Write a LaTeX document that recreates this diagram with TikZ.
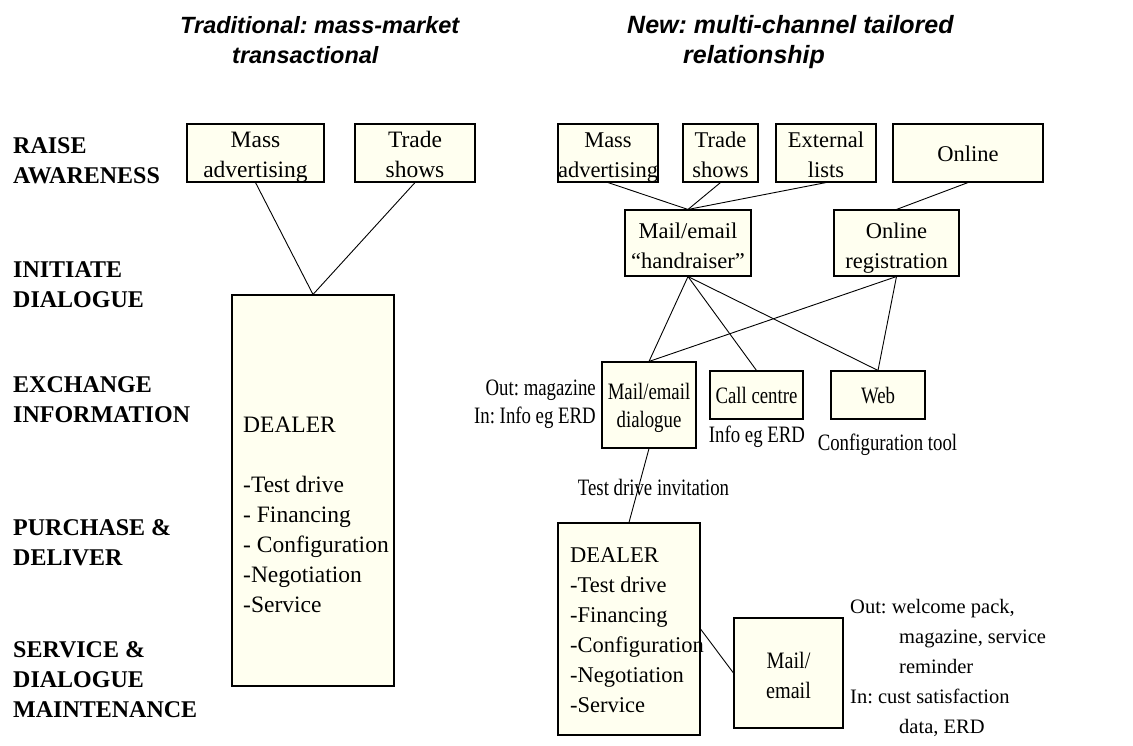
\documentclass[tikz,border=0pt]{standalone}
\usepackage{fontspec}
\setmainfont{Liberation Serif}
\newfontfamily\headfont{Liberation Sans}
\newfontfamily\narrowserif[FakeStretch=0.8]{Liberation Serif}
\newfontfamily\mailserif[FakeStretch=0.86]{Liberation Serif}
\usetikzlibrary{positioning}
\frenchspacing

\definecolor{boxfill}{RGB}{255,255,240}
\newcommand{\oldtxt}{\fontsize{23.5}{30}\selectfont}
\newcommand{\newtxt}{\fontsize{22.5}{30}\selectfont}
\newcommand{\infotxt}{\fontsize{23.5}{28}\selectfont\narrowserif}
\newcommand{\mailtxt}{\fontsize{23.5}{30}\selectfont\mailserif}
\newcommand{\notetxt}{\fontsize{20.5}{30}\selectfont}
\newcommand{\stagetxt}{\fontsize{24}{30}\selectfont\bfseries}
\newcommand{\headtxt}{\headfont\bfseries\itshape}

\tikzset{
  box/.style={draw, line width=1.1pt, fill=boxfill, inner sep=0pt, align=center,
    text height=48pt, text depth=0pt},
  oneline/.style={text height=16pt},
  txt/.style={inner sep=0pt, align=left},
  stage/.style={txt, anchor=base west, font=\stagetxt},
  head/.style={txt, anchor=base west},
  link/.style={line width=0.9pt},
}

\begin{document}
\begin{tikzpicture}[x=1pt, y=-1pt]
        \useasboundingbox (0,0) rectangle (1133,745);
        % Column headings (anchored on their last line)
        \node[head, font=\fontsize{23.5}{30}\selectfont\headtxt] (headOld) at (180,63) {Traditional: mass-market\\\hspace*{52pt}transactional};
        \node[head, font=\fontsize{25}{30}\selectfont\headtxt] (headNew) at (627,63) {New: multi-channel tailored\\\hspace*{56pt}relationship};
        % Stages down the left
        \node[stage] (raise) at (13,183) {RAISE\\AWARENESS};
        \node[stage] (initiate) at (13,307) {INITIATE\\DIALOGUE};
        \node[stage] (exchange) at (13,422) {EXCHANGE\\INFORMATION};
        \node[stage] (purchase) at (13,565) {PURCHASE \&\\DELIVER};
        \node[stage] (service) at (13,717) {SERVICE \&\\DIALOGUE\\MAINTENANCE};
        % Traditional column
        \node[box, font=\oldtxt, minimum width=137pt, minimum height=58pt] (advOld) at (255.5,153) {Mass\\advertising};
        \node[box, font=\oldtxt, minimum width=120pt, minimum height=58pt] (tradeOld) at (415,153) {Trade\\shows};
        \node[box, minimum width=162pt, minimum height=391pt] (dealerOld) at (313,490.5) {};
        \node[txt, font=\oldtxt, anchor=base west] (dealerOldList) at (243,612)
          {DEALER\\[30pt]-Test drive\\- Financing\\- Configuration\\-Negotiation\\-Service};
        \draw[link] (advOld.south) -- (dealerOld.north);
        \draw[link] (tradeOld.south) -- (dealerOld.north);
        % New column: awareness
        \node[box, font=\newtxt, minimum width=100pt, minimum height=58pt] (advNew) at (608,153) {Mass\\advertising};
        \node[box, font=\newtxt, minimum width=75pt, minimum height=58pt] (tradeNew) at (720.5,153) {Trade\\shows};
        \node[box, font=\newtxt, minimum width=100pt, minimum height=58pt] (lists) at (826,153) {External\\lists};
        \node[box, oneline, font=\newtxt, minimum width=150pt, minimum height=58pt] (online) at (968,153) {Online};
        % New column: dialogue
        \node[box, text height=50pt, font=\newtxt, minimum width=126pt, minimum height=66pt] (hand) at (688,243) {Mail/email\\“handraiser”};
        \node[box, text height=50pt, font=\newtxt, minimum width=125pt, minimum height=66pt] (reg) at (896.5,243) {Online\\registration};
        \draw[link] (advNew.south) -- (hand.north);
        \draw[link] (tradeNew.south) -- (hand.north);
        \draw[link] (lists.south) -- (hand.north);
        \draw[link] (online.south) -- (reg.north);
        % New column: information
        \node[box, text height=44pt, font=\infotxt, minimum width=94pt, minimum height=86pt] (dialogue) at (649,405) {Mail/email\\dialogue};
        \node[box, oneline, font=\infotxt, minimum width=93pt, minimum height=48pt] (call) at (756.5,395) {Call centre};
        \node[box, oneline, font=\infotxt, minimum width=94pt, minimum height=48pt] (web) at (878,395) {Web};
        \node[txt, font=\infotxt, align=right, anchor=base east] (dialogueNote) at (596,423) {Out: magazine\\In: Info eg ERD};
        \node[txt, font=\infotxt, anchor=base] (callNote) at (757,442) {Info eg ERD};
        \node[txt, font=\infotxt, anchor=base] (webNote) at (887.5,450) {Configuration tool};
        \draw[link] (hand.south) -- (dialogue.north);
        \draw[link] (hand.south) -- (call.north);
        \draw[link] (hand.south) -- (web.north);
        \draw[link] (reg.south) -- (dialogue.north);
        \draw[link] (reg.south) -- (web.north);
        % New column: dealer and follow-up
        \node[txt, font=\infotxt, anchor=base] (invite) at (653.5,495) {Test drive invitation};
        \node[box, minimum width=142pt, minimum height=212pt] (dealerNew) at (629,629) {};
        \node[txt, font=\newtxt, anchor=base west] (dealerNewList) at (570,712)
          {DEALER\\-Test drive\\-Financing\\-Configuration\\-Negotiation\\-Service};
        \node[box, text height=50pt, font=\mailtxt, minimum width=109pt, minimum height=110pt] (mailNew) at (788.5,673) {Mail/\\email};
        \node[txt, font=\notetxt, anchor=base west] (mailNote) at (850,733)
          {Out: welcome pack,\\\hspace*{49pt}magazine, service\\\hspace*{49pt}reminder\\In: cust satisfaction\\\hspace*{49pt}data, ERD};
        \draw[link] (dialogue.south) -- (dealerNew.north);
        \draw[link] (dealerNew.east) -- (mailNew.west);
\end{tikzpicture}
\end{document}
